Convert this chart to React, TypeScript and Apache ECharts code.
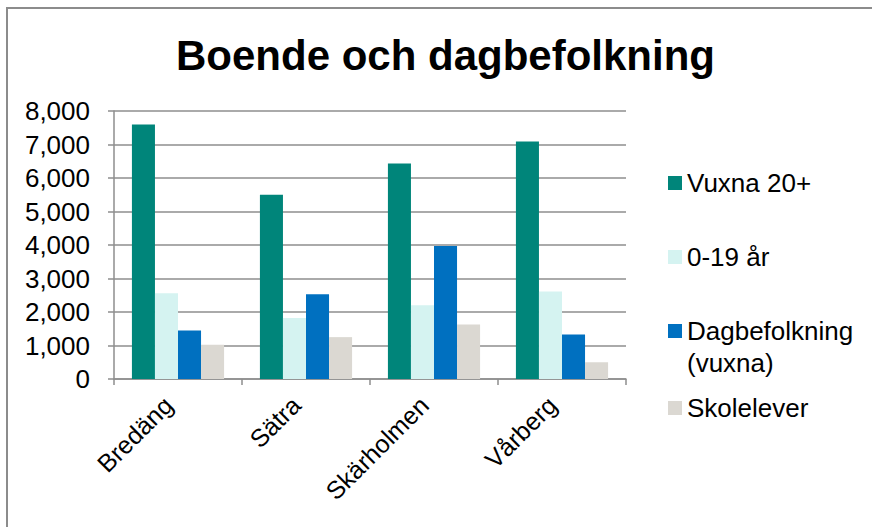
import React, { useEffect, useRef } from "react";
import * as echarts from "echarts";

const categories = ["Bredäng", "Sätra", "Skärholmen", "Vårberg"];
const vuxna = [7600, 5500, 6430, 7090];
const unga = [2560, 1820, 2200, 2610];
const dagbefolkning = [1450, 2530, 3970, 1330];
const skolelever = [1020, 1250, 1630, 500];
const seriesNames = ["Vuxna 20+", "0-19 år", "Dagbefolkning (vuxna)", "Skolelever"];
const yTicks = [0, 1000, 2000, 3000, 4000, 5000, 6000, 7000, 8000];

const FONT = "'Liberation Sans', Arial, sans-serif";
const GRID = "#8e8e8e";

export default function App() {
  const ref = useRef<HTMLDivElement>(null);
  useEffect(() => {
    if (!ref.current) return;
    const chart = echarts.init(ref.current, undefined, { renderer: "svg" });
    const colors = ["#00857A", "#D5F3F1", "#0070C0", "#DBD8D2"];
    const values = [vuxna, unga, dagbefolkning, skolelever];
    const legendTops = [167, 241, 283, 392];
    const legend = seriesNames.map((name, i) => ({
      data: [name],
      left: 668,
      top: legendTops[i],
      orient: "vertical",
      padding: 0,
      itemWidth: 14,
      itemHeight: 14,
      itemGap: 0,
      icon: "rect",
      selectedMode: false,
      formatter: (n: string) =>
        n === "Dagbefolkning (vuxna)" ? "\nDagbefolkning\n(vuxna)" : n,
      textStyle: {
        fontFamily: FONT,
        fontSize: 26,
        color: "#000",
        lineHeight: 32,
        padding: [0, 0, 0, 0],
      },
    }));
    chart.setOption({
      animation: false,
      backgroundColor: "#fff",
      title: {
        text: "Boende och dagbefolkning",
        left: 176,
        top: 34,
        padding: 0,
        textStyle: {
          fontFamily: FONT,
          fontSize: 42,
          fontWeight: "bold",
          color: "#000",
        },
      },
      graphic: [
        {
          type: "rect",
          shape: { x: 7, y: 8, width: 900, height: 600 },
          style: { fill: "none", stroke: "#8c8c8c", lineWidth: 2 },
          silent: true,
        },
      ],
      legend,
      grid: { left: 114, right: 246, top: 111, bottom: 148, containLabel: false },
      xAxis: {
        type: "category",
        data: categories,
        axisLine: { show: true, lineStyle: { color: GRID, width: 1.5 } },
        axisTick: { show: true, length: 6, lineStyle: { color: GRID, width: 1.5 } },
        axisLabel: {
          rotate: 45,
          margin: 12,
          padding: [0, 14, 0, 0],
          fontFamily: FONT,
          fontSize: 25,
          color: "#000",
        },
      },
      yAxis: {
        type: "value",
        min: yTicks[0],
        max: yTicks[yTicks.length - 1],
        interval: 1000,
        axisLine: { show: true, lineStyle: { color: GRID, width: 1.5 } },
        axisTick: { show: true, length: 6, lineStyle: { color: GRID, width: 1.5 } },
        splitLine: { show: true, lineStyle: { color: GRID, width: 1.5 } },
        axisLabel: {
          margin: 24,
          fontFamily: FONT,
          fontSize: 26,
          color: "#000",
          formatter: (v: number) => v.toLocaleString("en-US"),
        },
      },
      series: seriesNames.map((name, i) => ({
        name,
        type: "bar",
        data: values[i],
        barGap: "0%",
        barCategoryGap: "28%",
        itemStyle: { color: colors[i] },
      })),
    });
    return () => chart.dispose();
  }, []);
  return (
    <div
      ref={ref}
      style={{ position: "absolute", left: 0, top: 0, width: 872, height: 527 }}
    />
  );
}
